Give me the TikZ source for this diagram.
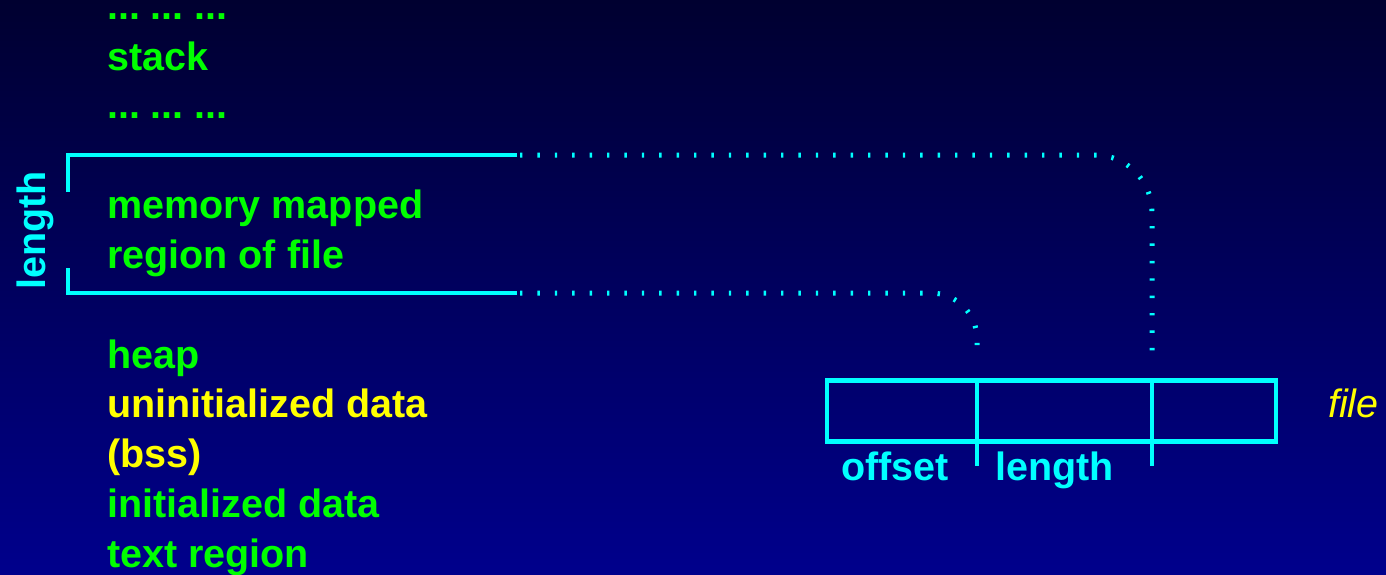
\documentclass[tikz,border=0pt]{standalone}
\usepackage{fontspec}
\setmainfont{Liberation Sans}
\usetikzlibrary{positioning}

\definecolor{segGreen}{RGB}{0,255,0}
\definecolor{segYellow}{RGB}{255,255,0}
\definecolor{mapCyan}{RGB}{0,255,255}

\newcommand{\gapdots}{...\hspace{0.27em}...\hspace{0.27em}...}

\begin{document}
\begin{tikzpicture}[x=1pt, y=-1pt,
    seg/.style={anchor=base west, inner sep=0pt, text=segGreen,
        font=\fontsize{39.5}{47}\selectfont\bfseries},
    bssseg/.style={seg, text=segYellow},
    maplabel/.style={seg, text=mapCyan},
    bracket/.style={mapCyan, line width=4pt},
    mapline/.style={mapCyan, line width=5pt, dash pattern=on 2.4pt off 15pt}
  ]
    % Background
    \shade[top color={rgb,255:red,0;green,0;blue,48},
           bottom color={rgb,255:red,0;green,0;blue,140}]
        (0,0) rectangle (1386,574);
    \useasboundingbox (0,0) rectangle (1386,574);

    % Address space, top to bottom
    \node[seg] (dotsa) at (107,19.5) {\gapdots};
    \node[seg] (stack) at (107,70) {stack};
    \node[seg] (dotsb) at (107,118.5) {\gapdots};
    \node[seg] (mmapa) at (107,218) {memory mapped};
    \node[seg] (mmapb) at (107,268) {region of file};
    \node[seg] (heap) at (107,368) {heap};
    \node[bssseg] (bssa) at (107,417) {uninitialized data};
    \node[bssseg] (bssb) at (107,467) {(bss)};
    \node[seg] (data) at (107,517) {initialized data};
    \node[seg] (text) at (107,567) {text region};

    % Bracket round the mapped region
    \coordinate (maptop) at (517,155);
    \coordinate (mapbot) at (517,293);
    \draw[bracket] (68,192) |- (maptop);
    \draw[bracket] (68,268) |- (mapbot);
    \node[maplabel, rotate=90] (maplen) at (45,290) {length};

    % The file and its cells
    \node[draw=mapCyan, line width=4.5pt, anchor=north west, inner sep=0pt,
          outer sep=0pt, minimum width=449pt, minimum height=61pt]
        (filebox) at (827,380.5) {};
    \coordinate (cuta) at (977,380.5);
    \coordinate (cutb) at (1152,380.5);
    \draw[bracket, line width=4.5pt] (cuta) -- (977,466);
    \draw[bracket, line width=4.5pt] (cutb) -- (1152,466);
    \node[maplabel] (offset) at (841,480) {offset};
    \node[maplabel] (flen) at (995,480) {length};
    \node[anchor=base west, inner sep=0pt, text=segYellow,
          font=\fontsize{39.5}{47}\selectfont\itshape] (file) at (1328,417) {file};

    % Mapping onto the file
    \coordinate (offend) at (977,345);
    \coordinate (lenend) at (1152,353);
    \draw[mapline, rounded corners=57pt] (maptop) ++(3,0) -| (lenend);
    \draw[mapline, rounded corners=46pt] (mapbot) ++(3,0) -| (offend);
\end{tikzpicture}
\end{document}
